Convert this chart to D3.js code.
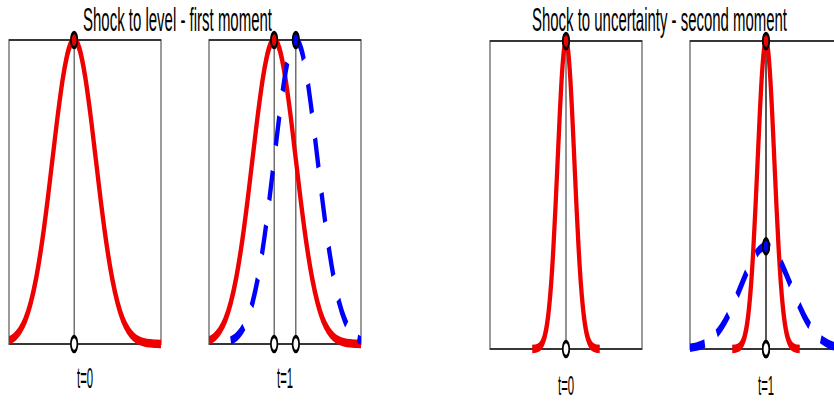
<!DOCTYPE html>
<html>
<head>
<meta charset="utf-8">
<script src="https://cdn.jsdelivr.net/npm/d3@7"></script>
<style>
  body { margin: 0; background: #fff; }
  svg { display: block; }
  text { font-family: "Liberation Sans", Arial, sans-serif; fill: #000; }
</style>
</head>
<body>
<div id="chart"></div>
<script>
// ---- data ----
const titles = ['Shock to level - first moment', 'Shock to uncertainty - second moment'];
const panelLabels = ['t=0', 't=1', 't=0', 't=1'];

// shock to level: density before (t=0) and after the shift (t=1)
const levelX0 = [-3, -2.75, -2.5, -2.25, -2, -1.75, -1.5, -1.25, -1, -0.75, -0.5, -0.25, 0,
  0.25, 0.5, 0.75, 1, 1.25, 1.5, 1.75, 2, 2.25, 2.5, 2.75, 3, 3.25, 3.5, 3.75, 4];
const levelY0 = [0.0044, 0.0091, 0.0175, 0.0317, 0.0540, 0.0863, 0.1295, 0.1826, 0.2420, 0.3011, 0.3521, 0.3867, 0.3989,
  0.3867, 0.3521, 0.3011, 0.2420, 0.1826, 0.1295, 0.0863, 0.0540, 0.0317, 0.0175, 0.0091, 0.0044, 0.0020, 0.0009, 0.0004, 0.0001];
const levelX1 = [-2, -1.75, -1.5, -1.25, -1, -0.75, -0.5, -0.25, 0, 0.25, 0.5, 0.75, 1,
  1.25, 1.5, 1.75, 2, 2.25, 2.5, 2.75, 3, 3.25, 3.5, 3.75, 4];
const levelY1 = [0.0044, 0.0091, 0.0175, 0.0317, 0.0540, 0.0863, 0.1295, 0.1826, 0.2420, 0.3011, 0.3521, 0.3867, 0.3989,
  0.3867, 0.3521, 0.3011, 0.2420, 0.1826, 0.1295, 0.0863, 0.0540, 0.0317, 0.0175, 0.0091, 0.0044];

// shock to uncertainty: narrow density (t=0) and the widened one (t=1)
const uncX0 = [-1.333, -1.25, -1.167, -1.083, -1, -0.917, -0.833, -0.75, -0.667, -0.583, -0.5, -0.417, -0.333, -0.25, -0.167, -0.083, 0,
  0.083, 0.167, 0.25, 0.333, 0.417, 0.5, 0.583, 0.667, 0.75, 0.833, 0.917, 1, 1.083, 1.167, 1.25, 1.333];
const uncY0 = [0.0004, 0.0011, 0.0026, 0.0061, 0.0133, 0.0273, 0.0525, 0.0951, 0.1620, 0.2589, 0.3885, 0.5478, 0.7260, 0.9033, 1.0563, 1.1601, 1.1968,
  1.1601, 1.0563, 0.9033, 0.7260, 0.5478, 0.3885, 0.2589, 0.1620, 0.0951, 0.0525, 0.0273, 0.0133, 0.0061, 0.0026, 0.0011, 0.0004];
const uncX1 = [-3, -2.75, -2.5, -2.25, -2, -1.75, -1.5, -1.25, -1, -0.75, -0.5, -0.25, 0,
  0.25, 0.5, 0.75, 1, 1.25, 1.5, 1.75, 2, 2.25, 2.5, 2.75, 3];
const uncY1 = [0.0044, 0.0091, 0.0175, 0.0317, 0.0540, 0.0863, 0.1295, 0.1826, 0.2420, 0.3011, 0.3521, 0.3867, 0.3989,
  0.3867, 0.3521, 0.3011, 0.2420, 0.1826, 0.1295, 0.0863, 0.0540, 0.0317, 0.0175, 0.0091, 0.0044];

const levelDomain = [-3, 4];
const uncDomain = [-3, 3];

// ---- layout ----
const W = 834;
const H = 401;
const SX = 0.5; // whole figure is squeezed horizontally
const vx = v => v / SX; // screen px -> drawing px

const RED = '#ee0000';
const BLUE = '#0000ff';

const panels = [
  { box: [9, 161, 40, 344], xDomain: levelDomain, yMax: 0.3989, labelY: 388, labelSize: 30,
    series: [{ x: levelX0, y: levelY0, color: RED }] },
  { box: [209, 361, 40, 344], xDomain: levelDomain, yMax: 0.3989, labelY: 388, labelSize: 30,
    series: [{ x: levelX0, y: levelY0, color: RED }, { x: levelX1, y: levelY1, color: BLUE, dashed: true }] },
  { box: [490, 642, 41, 349], xDomain: uncDomain, yMax: 1.1968, labelY: 395, labelSize: 27,
    series: [{ x: uncX0, y: uncY0, color: RED }] },
  { box: [690, 842, 41, 349], xDomain: uncDomain, yMax: 1.1968, labelY: 395, labelSize: 27,
    series: [{ x: uncX0, y: uncY0, color: RED }, { x: uncX1, y: uncY1, color: BLUE, dashed: true }] },
];

const svg = d3.select('#chart').append('svg')
  .attr('width', W)
  .attr('height', H);

const root = svg.append('g')
  .attr('transform', `scale(${SX},1)`);

panels.forEach((p, k) => {
  const [left, right, top, bottom] = p.box;
  const x = d3.scaleLinear().domain(p.xDomain).range([vx(left), vx(right)]);
  const y = d3.scaleLinear().domain([0, p.yMax]).range([bottom, top]);

  const g = root.append('g').attr('class', 'panel');

  g.append('clipPath')
    .attr('id', `clip${k}`)
    .append('rect')
    .attr('x', x.range()[0])
    .attr('y', top - 10)
    .attr('width', x.range()[1] - x.range()[0])
    .attr('height', bottom - top + 20);

  g.append('rect')
    .attr('x', x.range()[0])
    .attr('y', top)
    .attr('width', x.range()[1] - x.range()[0])
    .attr('height', bottom - top)
    .attr('fill', 'none')
    .attr('stroke', '#222')
    .attr('stroke-width', 1.8);

  const peaks = p.series.map(s => {
    const i = d3.maxIndex(s.y);
    return { x: s.x[i], y: s.y[i], color: s.color };
  });

  // thin guide lines through each peak
  g.selectAll('.guide')
    .data(peaks)
    .enter().append('line')
    .attr('class', 'guide')
    .attr('x1', d => x(d.x))
    .attr('x2', d => x(d.x))
    .attr('y1', y(0))
    .attr('y2', y(p.yMax))
    .attr('stroke', '#111')
    .attr('stroke-width', 1.8);

  const line = d3.line()
    .x(d => x(d[0]))
    .y(d => y(d[1]))
    .curve(d3.curveMonotoneX);

  g.selectAll('.curve')
    .data(p.series)
    .enter().append('path')
    .attr('class', 'curve')
    .attr('clip-path', `url(#clip${k})`)
    .attr('d', s => line(s.x.map((v, i) => [v, s.y[i]])))
    .attr('fill', 'none')
    .attr('stroke', s => s.color)
    .attr('stroke-width', 8.5)
    .attr('stroke-dasharray', s => (s.dashed ? '30,26' : null));

  // markers: filled at the peak, hollow on the axis
  g.selectAll('.base')
    .data(peaks)
    .enter().append('ellipse')
    .attr('class', 'base')
    .attr('cx', d => x(d.x))
    .attr('cy', y(0))
    .attr('rx', 6.5)
    .attr('ry', 7.5)
    .attr('fill', '#fff')
    .attr('stroke', '#000')
    .attr('stroke-width', 3.5);

  g.selectAll('.peak')
    .data(peaks)
    .enter().append('ellipse')
    .attr('class', 'peak')
    .attr('cx', d => x(d.x))
    .attr('cy', d => y(d.y))
    .attr('rx', 6.5)
    .attr('ry', 7.5)
    .attr('fill', d => d.color)
    .attr('stroke', '#000')
    .attr('stroke-width', 3.5);

  g.append('text')
    .attr('x', vx((left + right) / 2))
    .attr('y', p.labelY)
    .attr('text-anchor', 'middle')
    .attr('font-size', p.labelSize)
    .attr('textLength', 32)
    .attr('lengthAdjust', 'spacingAndGlyphs')
    .text(panelLabels[k]);
});

// figure titles above each pair of panels
const titlePos = [
  { cx: 177.5, width: 189 },
  { cx: 659.5, width: 255 },
];
root.selectAll('.title')
  .data(titles)
  .enter().append('text')
  .attr('class', 'title')
  .attr('x', (d, i) => vx(titlePos[i].cx))
  .attr('y', 31)
  .attr('text-anchor', 'middle')
  .attr('font-size', 34)
  .attr('textLength', (d, i) => vx(titlePos[i].width))
  .attr('lengthAdjust', 'spacingAndGlyphs')
  .text(d => d);
</script>
</body>
</html>
